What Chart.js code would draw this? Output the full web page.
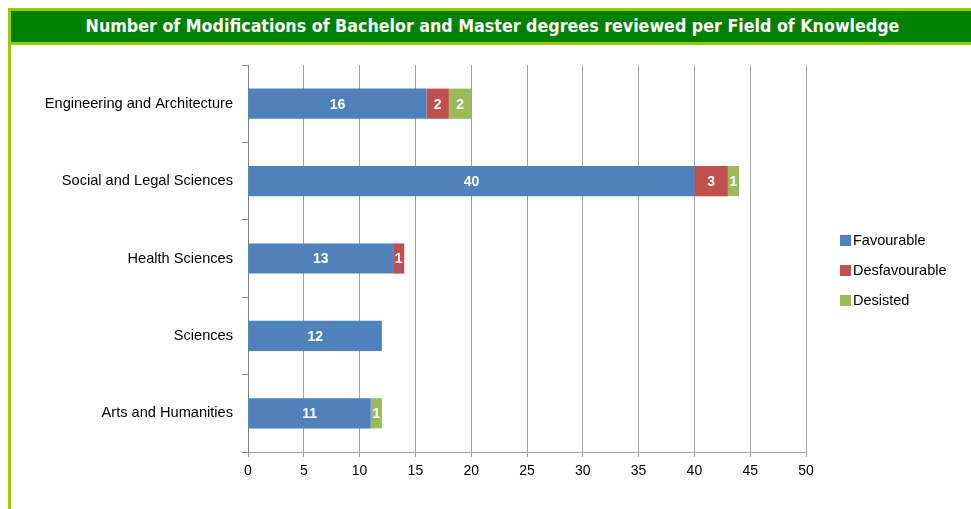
<!DOCTYPE html>
<html><head><meta charset="utf-8">
<script src="https://cdn.jsdelivr.net/npm/chart.js@4/dist/chart.umd.min.js"></script>
<style>
html,body{margin:0;padding:0;background:#fff;width:971px;height:509px;overflow:hidden;}
#frameL{position:absolute;left:8px;top:8px;width:3px;height:501px;background:#99cc00;}
#banner{position:absolute;left:8px;top:8px;width:963px;height:31px;background:#008000;border-top:3px solid #99cc00;border-bottom:3px solid #99cc00;border-left:3px solid #99cc00;box-sizing:content-box;color:#fff;font:bold 17.7px "DejaVu Sans Condensed","DejaVu Sans",sans-serif;text-align:center;line-height:31px;}
#wrap{position:absolute;left:0;top:0;width:971px;height:509px;}
</style></head><body>
<div id="wrap"><canvas id="c" width="971" height="509"></canvas></div>
<div id="frameL"></div>
<div id="banner">Number of Modifications of Bachelor and Master degrees reviewed per Field of Knowledge</div>
<script>
const categories = ["Engineering and Architecture","Social and Legal Sciences","Health Sciences","Sciences","Arts and Humanities"];
const favourable = [16, 40, 13, 12, 11];
const desfavourable = [2, 3, 1, 0, 0];
const desisted = [2, 1, 0, 0, 1];
const seriesNames = ["Favourable","Desfavourable","Desisted"];
const xTicks = [0,5,10,15,20,25,30,35,40,45,50];
const colors = ["#4f81bd","#c0504d","#9bbb59"];
const FONT = "Liberation Sans";

const labelPlugin = {
  id:'segLabels',
  afterDatasetsDraw(chart){
    const ctx = chart.ctx;
    ctx.save();
    ctx.font = "bold 14px " + FONT;
    ctx.fillStyle = "#fff";
    ctx.textAlign = "center";
    ctx.textBaseline = "middle";
    chart.data.datasets.forEach((ds,i)=>{
      const meta = chart.getDatasetMeta(i);
      meta.data.forEach((bar,j)=>{
        const v = ds.data[j];
        if(!v) return;
        const x = (bar.x + bar.base)/2;
        ctx.fillText(String(v), x, bar.y+1);
      });
    });
    ctx.restore();
  }
};
const legendPlugin = {
  id:'customLegend',
  afterDraw(chart){
    const ctx = chart.ctx;
    ctx.save();
    ctx.font = "14.5px " + FONT;
    ctx.textBaseline = "middle";
    ctx.textAlign = "left";
    chart.data.datasets.forEach((ds,i)=>{
      const y = 240 + i*30;
      ctx.fillStyle = ds.backgroundColor;
      ctx.fillRect(840, y-5, 11, 11);
      ctx.fillStyle = "#000";
      ctx.fillText(ds.label, 853, y+1);
    });
    ctx.restore();
  }
};

new Chart(document.getElementById('c'), {
  type:'bar',
  data:{
    labels: categories,
    datasets:[
      {label:seriesNames[0], data:favourable, backgroundColor:colors[0]},
      {label:seriesNames[1], data:desfavourable, backgroundColor:colors[1]},
      {label:seriesNames[2], data:desisted, backgroundColor:colors[2]}
    ]
  },
  options:{
    indexAxis:'y',
    responsive:false,
    animation:false,
    devicePixelRatio:1,
    layout:{padding:{top:65,right:165,left:0,bottom:0}},
    datasets:{bar:{barPercentage:0.39,categoryPercentage:1.0,borderWidth:0}},
    plugins:{legend:{display:false},title:{display:false},tooltip:{enabled:false}},
    scales:{
      x:{
        stacked:true, min:0, max:50,
        afterBuildTicks(s){ s.ticks = xTicks.map(v=>({value:v})); },
        grid:{color:'#a0a0a0',lineWidth:1,tickLength:5,drawTicks:true},
        border:{color:'#a0a0a0'},
        ticks:{color:'#000',font:{family:FONT,size:14},padding:6,maxRotation:0},
        afterFit(s){ s.height = 57; }
      },
      y:{
        stacked:true,
        grid:{display:true,drawOnChartArea:false,color:'#808080',tickLength:6,offset:true},
        border:{color:'#808080'},
        ticks:{color:'#000',font:{family:FONT,size:14.6},padding:9},
        afterFit(s){ s.width = 248; }
      }
    }
  },
  plugins:[labelPlugin, legendPlugin]
});
</script>
</body></html>
